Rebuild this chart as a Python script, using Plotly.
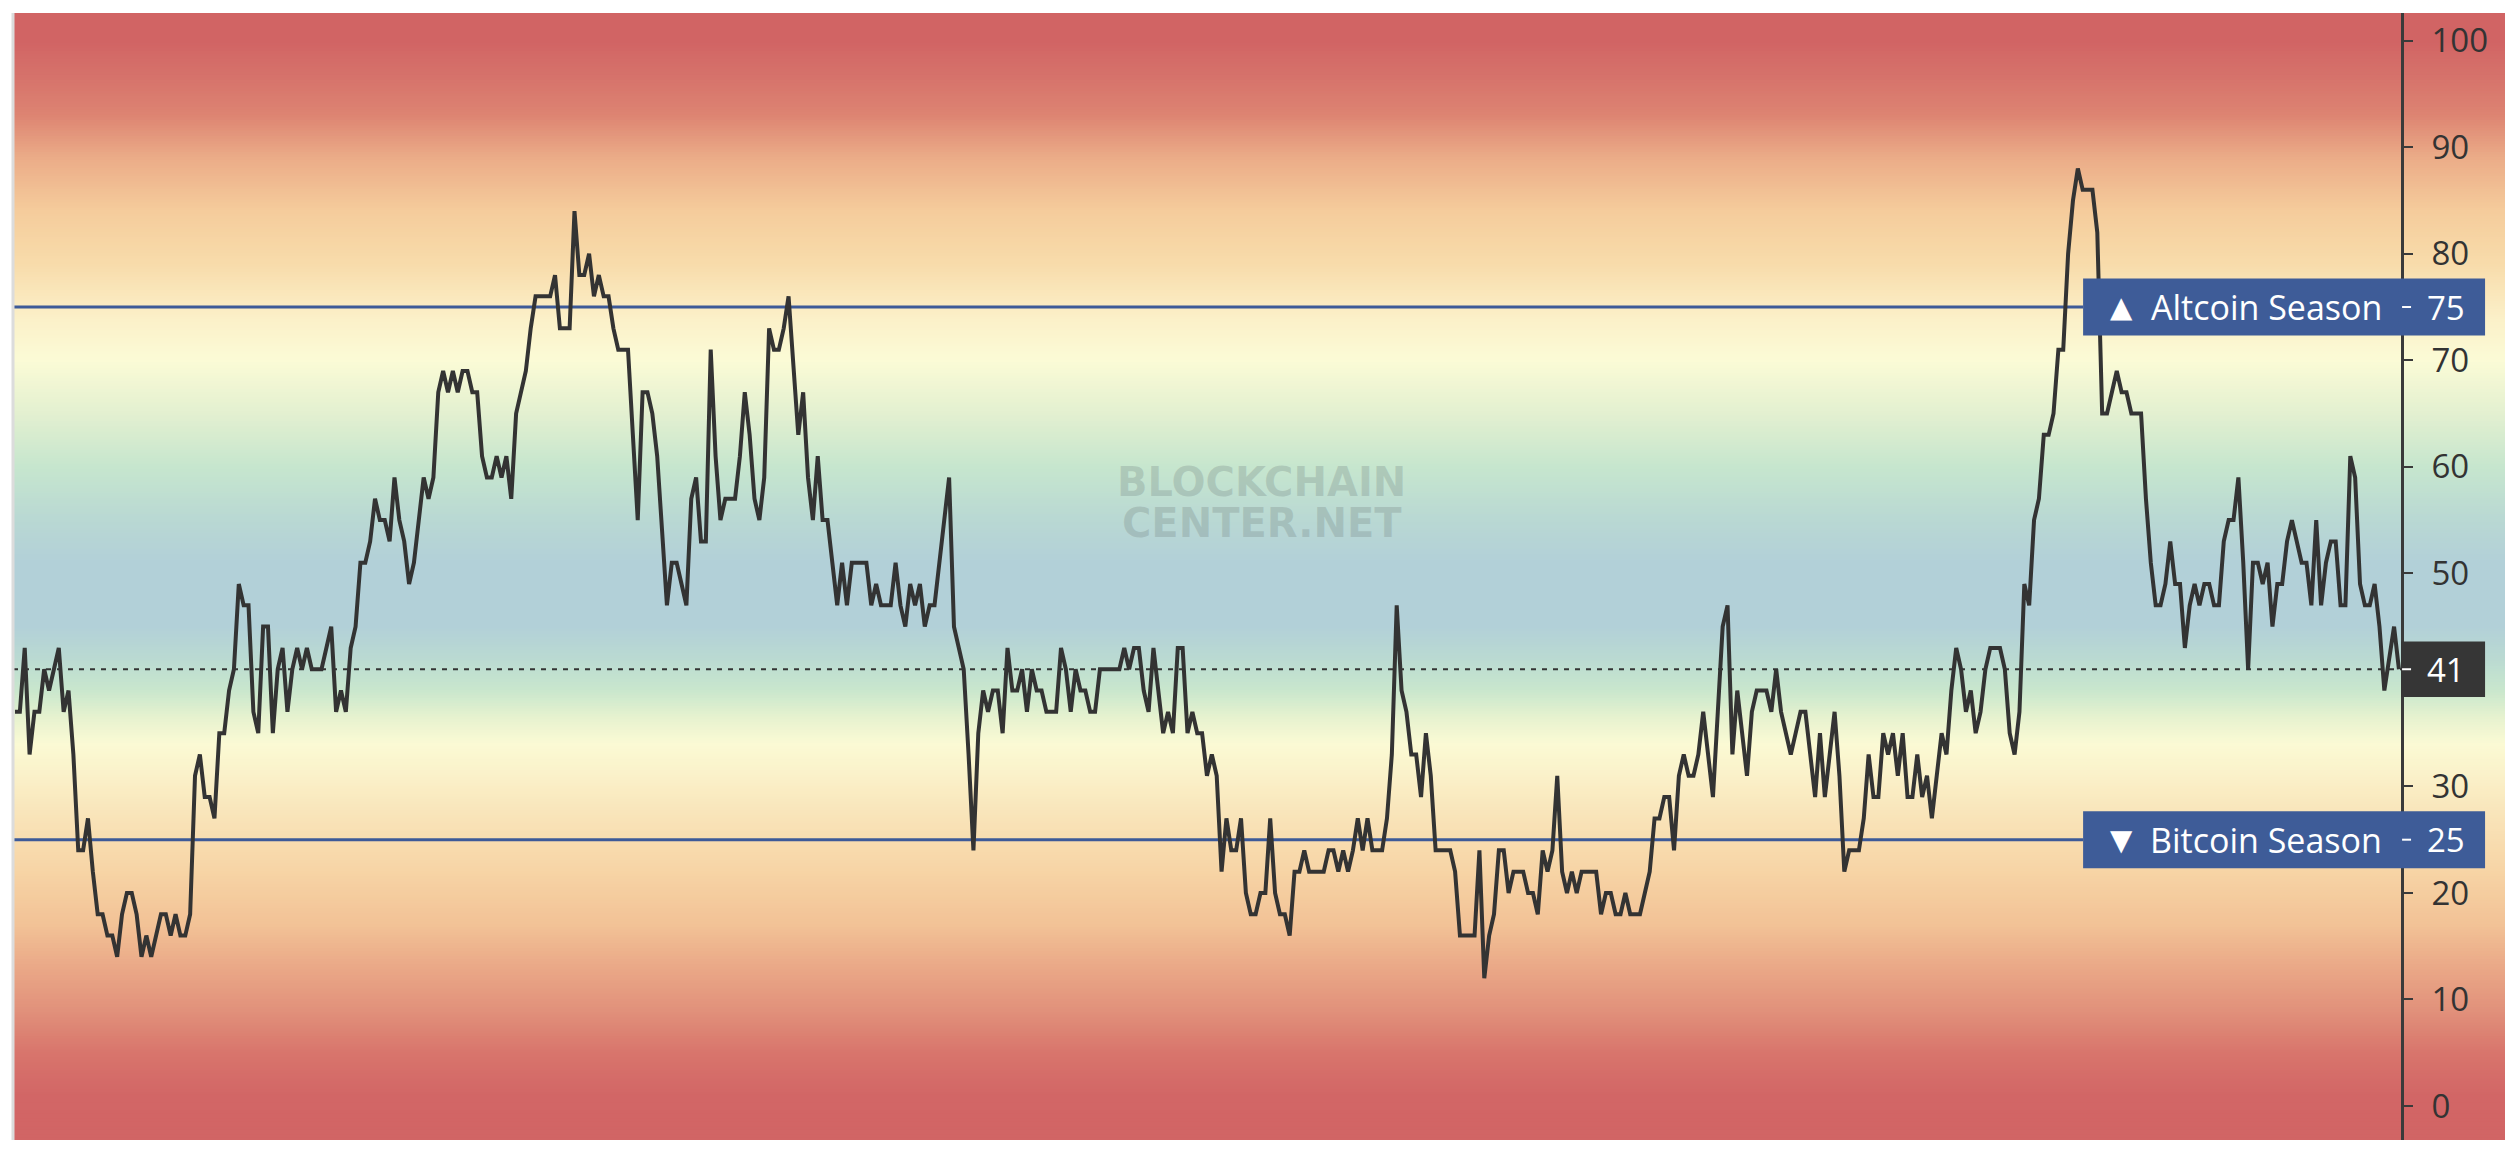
import plotly.graph_objects as go

# ---------------- data ----------------
VALUES = [
    37, 37, 43, 33, 37, 37, 41, 39, 41, 43,
    37, 39, 33, 24, 24, 27, 22, 18, 18, 16,
    16, 14, 18, 20, 20, 18, 14, 16, 14, 16,
    18, 18, 16, 18, 16, 16, 18, 31, 33, 29,
    29, 27, 35, 35, 39, 41, 49, 47, 47, 37,
    35, 45, 45, 35, 41, 43, 37, 41, 43, 41,
    43, 41,
    41, 41, 43, 45, 37, 39, 37, 43, 45, 51,
    51, 53, 57, 55, 55, 53, 59, 55, 53, 49,
    51, 55, 59, 57, 59, 67, 69, 67, 69, 67,
    69, 69, 67, 67, 61, 59, 59, 61, 59, 61,
    57, 65, 67, 69, 73, 76, 76, 76, 76, 78,
    73, 73, 73, 84, 78, 78, 80, 76, 78, 76,
    76, 73, 71,
    71, 71, 63, 55, 67, 67, 65, 61, 54, 47,
    51, 51, 49, 47, 57, 59, 53, 53, 71, 61,
    55, 57, 57, 57, 61, 67, 63, 57, 55, 59,
    73, 71, 71, 73, 76, 69, 63, 67, 59, 55,
    61, 55, 55, 51, 47, 51, 47, 51, 51, 51,
    51, 47, 49, 47, 47, 47, 51, 47, 45, 49,
    47, 49,
    45, 47, 47, 51, 55, 59, 45, 43, 41, 33,
    24, 35, 39, 37, 39, 39, 35, 43, 39, 39,
    41, 37, 41, 39, 39, 37, 37, 37, 43, 41,
    37, 41, 39, 39, 37, 37, 41, 41, 41, 41,
    41, 43, 41, 43, 43, 39, 37, 43, 39, 35,
    37, 35, 43, 43, 35, 37, 35, 35, 31, 33,
    31,
    22, 27, 24, 24, 27, 20, 18, 18, 20, 20,
    27, 20, 18, 18, 16, 22, 22, 24, 22, 22,
    22, 22, 24, 24, 22, 24, 22, 24, 27, 24,
    27, 24, 24, 24, 27, 33, 47, 39, 37, 33,
    33, 29, 35, 31, 24, 24, 24, 24, 22, 16,
    16, 16, 16, 24, 12, 16, 18, 24, 24, 20,
    22,
    22, 22, 20, 20, 18, 24, 22, 24, 31, 22,
    20, 22, 20, 22, 22, 22, 22, 18, 20, 20,
    18, 18, 20, 18, 18, 18, 20, 22, 27, 27,
    29, 29, 24, 31, 33, 31, 31, 33, 37, 33,
    29, 37, 45, 47, 33, 39, 35, 31, 37, 39,
    39, 39, 37, 41, 37, 35, 33, 35, 37, 37,
    33, 29, 35,
    29, 33, 37, 31, 22, 24, 24, 24, 27, 33,
    29, 29, 35, 33, 35, 31, 35, 29, 29, 33,
    29, 31, 27, 31, 35, 33, 39, 43, 41, 37,
    39, 35, 37, 41, 43, 43, 43, 41, 35, 33,
    37, 49, 47, 55, 57, 63, 63, 65, 71, 71,
    80, 85, 88, 86, 86, 86, 82,
    65, 65, 67, 69, 67, 67, 65, 65, 65, 57,
    51, 47, 47, 49, 53, 49, 49, 43, 47, 49,
    47, 49, 49, 47, 47, 53, 55, 55, 59, 51,
    41, 51, 51, 49, 51, 45, 49, 49, 53, 55,
    53, 51, 51, 47, 55, 47, 51, 53, 53, 47,
    47, 61, 59, 49, 47, 47, 49, 45, 39, 42,
    45, 41,
]
DAYS = list(range(len(VALUES)))

ALT_LEVEL = 75
BTC_LEVEL = 25
ALT_LABEL = "Altcoin Season"
BTC_LABEL = "Bitcoin Season"
TICKS = [0, 10, 20, 30, 40, 50, 60, 70, 80, 90, 100]
CURRENT = VALUES[-1]

# background gradient stops (value level -> colour)
GRAD_LEVELS = [-5, 1, 5, 9, 13, 17, 22, 27, 31, 34, 36.5, 39, 42, 45,
               51, 55, 60, 65, 70, 74, 79, 84, 89, 93, 96.5, 100, 106]
GRAD_COLORS = ["#D16464", "#D26666", "#D8756C", "#E1917B", "#EAA887",
               "#F2C296", "#F7D4A5", "#F9E3B8", "#FAF1C9", "#FBFAD4",
               "#E6F2CF", "#C9E7CD", "#BADAD2", "#B2D0D8", "#B2D0D8",
               "#B9D8D3", "#C6E6CE", "#E3F0D0", "#FBFBD6", "#FBF0C8",
               "#F8DCAB", "#F5CC9C", "#EBAC88", "#DD8472", "#D6736B",
               "#D16464", "#D16464"]

# ---------------- helpers ----------------
def hex2rgb(h):
    h = h.lstrip("#")
    return tuple(int(h[i:i + 2], 16) for i in (0, 2, 4))


def color_at(v):
    if v <= GRAD_LEVELS[0]:
        return GRAD_COLORS[0]
    for i in range(1, len(GRAD_LEVELS)):
        if v <= GRAD_LEVELS[i]:
            a, b = GRAD_LEVELS[i - 1], GRAD_LEVELS[i]
            t = (v - a) / (b - a)
            c0, c1 = hex2rgb(GRAD_COLORS[i - 1]), hex2rgb(GRAD_COLORS[i])
            c = [round(c0[k] + (c1[k] - c0[k]) * t) for k in range(3)]
            return "rgb(%d,%d,%d)" % tuple(c)
    return GRAD_COLORS[-1]


Y_RANGE = [-3.19, 102.6]
X_RANGE = [-0.41, 511.8]
AXIS_POS = 0.9587        # paper x of the right value axis
BOX_LEFT = 0.8307        # paper x where the season labels start
BOX_RIGHT = 0.9920
LABEL_X = 0.9679
BOX_HALF = 2.68
LINE_BLUE = "#3D5A98"
DARK = "#363636"
FONT = "Open Sans"

shapes = []
# gradient background
step = 0.25
v = Y_RANGE[0] - 0.5
while v < Y_RANGE[1] + 0.5:
    shapes.append(dict(type="rect", xref="paper", yref="y", x0=0, x1=1,
                       y0=v, y1=v + step * 1.6, layer="below",
                       fillcolor=color_at(v + step / 2), line=dict(width=0)))
    v += step

# threshold lines
for lvl in (ALT_LEVEL, BTC_LEVEL):
    shapes.append(dict(type="line", xref="paper", yref="y", x0=0, x1=BOX_LEFT,
                       y0=lvl, y1=lvl, layer="between",
                       line=dict(color=LINE_BLUE, width=3)))
# current value dotted line
shapes.append(dict(type="line", xref="paper", yref="y", x0=0, x1=AXIS_POS,
                   y0=CURRENT, y1=CURRENT, layer="between",
                   line=dict(color="#333333", width=2, dash="5px,6px")))
# label boxes
for lvl in (ALT_LEVEL, BTC_LEVEL):
    shapes.append(dict(type="rect", xref="paper", yref="y", x0=BOX_LEFT, x1=BOX_RIGHT,
                       y0=lvl - BOX_HALF, y1=lvl + BOX_HALF, layer="above",
                       fillcolor="#3E5C98", line=dict(width=0)))
shapes.append(dict(type="rect", xref="paper", yref="y", x0=AXIS_POS - 0.0004, x1=BOX_RIGHT,
                   y0=CURRENT - 2.6, y1=CURRENT + 2.6, layer="above",
                   fillcolor=DARK, line=dict(width=0)))
# white ticks on the labels
for lvl in (ALT_LEVEL, BTC_LEVEL, CURRENT):
    shapes.append(dict(type="line", xref="paper", yref="y", x0=AXIS_POS, x1=AXIS_POS + 0.0036,
                       y0=lvl, y1=lvl, layer="above",
                       line=dict(color="white", width=2)))
# faint left border
shapes.append(dict(type="line", xref="paper", yref="paper", x0=0, x1=0, y0=0, y1=1,
                   layer="above", line=dict(color="#DCDCDC", width=3)))

annotations = []
for lvl, label, tri in ((ALT_LEVEL, ALT_LABEL, "▲"), (BTC_LEVEL, BTC_LABEL, "▼")):
    annotations.append(dict(xref="paper", yref="y", x=0.8463, y=lvl, text=tri,
                            showarrow=False, xanchor="center", yanchor="middle",
                            font=dict(family="DejaVu Sans", size=29, color="white")))
    annotations.append(dict(xref="paper", yref="y", x=0.9515, y=lvl, text=label,
                            showarrow=False, xanchor="right", yanchor="middle",
                            font=dict(family=FONT, size=34, color="white")))
    annotations.append(dict(xref="paper", yref="y", x=LABEL_X, y=lvl, text=str(lvl),
                            showarrow=False, xanchor="left", yanchor="middle",
                            font=dict(family=FONT, size=33, color="white")))
annotations.append(dict(xref="paper", yref="y", x=LABEL_X, y=CURRENT, text=str(CURRENT),
                        showarrow=False, xanchor="left", yanchor="middle",
                        font=dict(family=FONT, size=33, color="white")))
# watermark
for txt, py in (("BLOCKCHAIN", 0.584), ("CENTER.NET", 0.5475)):
    annotations.append(dict(xref="paper", yref="paper", x=0.5012, y=py, text=txt,
                            showarrow=False, xanchor="center", yanchor="middle",
                            font=dict(family="DejaVu Sans", size=40, weight="bold",
                                      color="rgba(115,130,128,0.28)")))

# tick texts: the tick hidden under the current-value label shows no text
tick_text = ["" if abs(t - CURRENT) < 4 else str(t) for t in TICKS]

fig = go.Figure()
fig.add_trace(go.Scatter(x=DAYS, y=VALUES, mode="lines",
                         line=dict(color="#333333", width=4),
                         hoverinfo="skip", showlegend=False))

fig.update_layout(
    width=2501, height=1138,
    margin=dict(l=5, r=4, t=5, b=6),
    paper_bgcolor="white", plot_bgcolor="white",
    showlegend=False,
    xaxis=dict(range=X_RANGE, visible=False, showgrid=False, zeroline=False),
    yaxis=dict(range=Y_RANGE, side="right", anchor="free", position=AXIS_POS,
               showline=True, linecolor="#3a3a3a", linewidth=2.5,
               ticks="outside", ticklen=9, tickwidth=2, tickcolor="#3a3a3a",
               tickvals=TICKS, ticktext=tick_text,
               showgrid=False, zeroline=False, ticklabelstandoff=12,
               tickfont=dict(family=FONT, size=33, color="#333333")),
    shapes=shapes,
    annotations=annotations,
)

fig.write_html("out.html")
